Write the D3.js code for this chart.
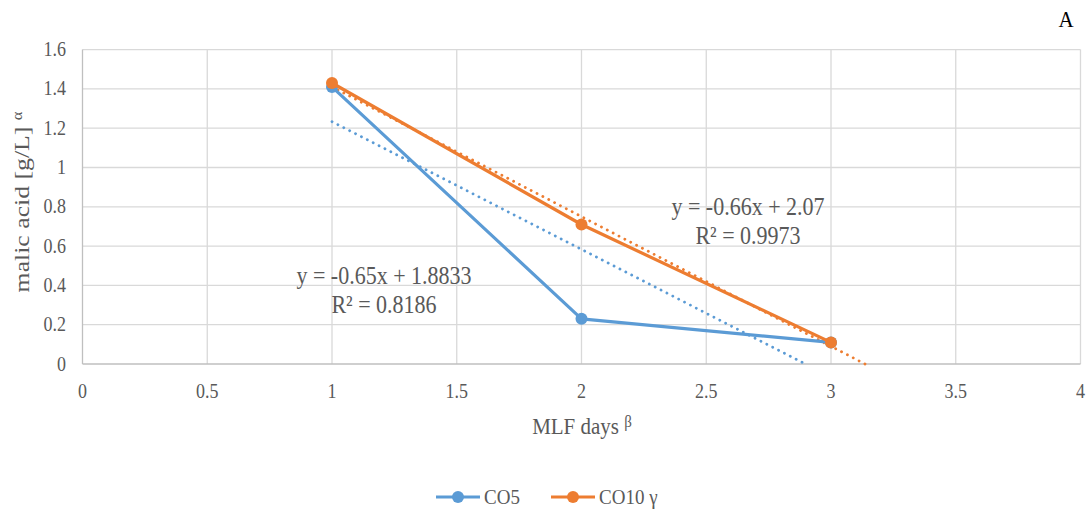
<!DOCTYPE html>
<html>
<head>
<meta charset="utf-8">
<script src="https://cdn.jsdelivr.net/npm/d3@7"></script>
<style>
  body { margin: 0; background: #fff; }
</style>
</head>
<body>
<div id="chart"></div>
<script>
// data
var days = [1, 2, 3];
var co5 = [1.41, 0.23, 0.11];
var co10 = [1.43, 0.71, 0.11];
var xTicks = [0, 0.5, 1, 1.5, 2, 2.5, 3, 3.5, 4];
var yTicks = [0, 0.2, 0.4, 0.6, 0.8, 1, 1.2, 1.4, 1.6];
// linear trendlines (slope, intercept) as printed on the chart
var trendCO5 = [-0.65, 1.8833];
var trendCO10 = [-0.66, 2.07];
var labelCO5 = ["y = -0.65x + 1.8833", "R\u00b2 = 0.8186"];
var labelCO10 = ["y = -0.66x + 2.07", "R\u00b2 = 0.9973"];

var W = 1087, H = 515;
var blue = "#5B9BD5", orange = "#ED7D31", grey = "#595959";
var serif = "'Liberation Serif', 'Times New Roman', Times, 'DejaVu Serif', serif";
var stretch = 1.13; // the original picture is a bit taller than wide

var svg = d3.select("#chart").append("svg")
  .attr("width", W).attr("height", H)
  .style("font-family", serif);

var x = d3.scaleLinear().domain([0, 4]).range([82.5, 1080.5]);
var y = d3.scaleLinear().domain([0, 1.6]).range([364, 49.6]);

// helper: horizontal text stretched vertically
function txt(px, py, size, anchor, color) {
  return svg.append("text")
    .attr("transform", "translate(" + px + "," + py + ") scale(1," + stretch + ")")
    .attr("text-anchor", anchor).attr("fill", color).style("font-size", size + "px");
}

// gridlines
svg.append("g").selectAll("line.v")
  .data(xTicks.slice(1))
  .enter().append("line")
    .attr("x1", function(d){ return x(d); }).attr("x2", function(d){ return x(d); })
    .attr("y1", y(0)).attr("y2", y(1.6))
    .attr("stroke", "#D9D9D9").attr("stroke-width", 1.3);
svg.append("g").selectAll("line.h")
  .data(yTicks.slice(1))
  .enter().append("line")
    .attr("x1", x(0)).attr("x2", x(4))
    .attr("y1", function(d){ return y(d); }).attr("y2", function(d){ return y(d); })
    .attr("stroke", "#D9D9D9").attr("stroke-width", 1.3);

// axes lines
svg.append("line").attr("x1", x(0)).attr("x2", x(0)).attr("y1", y(0)).attr("y2", y(1.6))
  .attr("stroke", "#BFBFBF").attr("stroke-width", 1.3);
svg.append("line").attr("x1", x(0)).attr("x2", x(4)).attr("y1", y(0)).attr("y2", y(0))
  .attr("stroke", "#BFBFBF").attr("stroke-width", 1.3);

// tick labels
yTicks.forEach(function(d) {
  txt(66, y(d) + 6.5, 18, "end", grey).text(d);
});
xTicks.forEach(function(d) {
  txt(x(d), 398, 18, "middle", grey).text(d);
});

// axis titles
var yt = svg.append("text")
  .attr("transform", "translate(29,202) rotate(-90) scale(1.17,1)")
  .attr("text-anchor", "middle").attr("fill", grey).style("font-size", "22px");
yt.append("tspan").text("malic acid [g/L] ");
yt.append("tspan").attr("dy", -7).style("font-size", "14px").text("\u03b1");

var xt = txt(582, 434, 21, "middle", grey);
xt.append("tspan").text("MLF days ");
xt.append("tspan").attr("dy", -6).style("font-size", "15px").text("\u03b2");

// trendlines, from first day until they hit zero
function trend(t) {
  var x0 = days[0], x1 = -t[1] / t[0];
  return [[x0, t[0] * x0 + t[1]], [x1, 0]];
}
var line = d3.line()
  .x(function(d){ return x(d[0]); })
  .y(function(d){ return y(d[1]); });

svg.append("path").datum(trend(trendCO5))
  .attr("d", line).attr("fill", "none").attr("stroke", blue)
  .attr("stroke-width", 2.8).attr("stroke-dasharray", "0.1 6.5").attr("stroke-linecap", "round");
svg.append("path").datum(trend(trendCO10))
  .attr("d", line).attr("fill", "none").attr("stroke", orange)
  .attr("stroke-width", 2.8).attr("stroke-dasharray", "0.1 6.5").attr("stroke-linecap", "round");

// series
var series = [
  { name: "CO5", vals: co5, color: blue },
  { name: "CO10", vals: co10, color: orange }
];
series.forEach(function(s) {
  var pts = days.map(function(d, i){ return [d, s.vals[i]]; });
  svg.append("path").datum(pts)
    .attr("d", line).attr("fill", "none").attr("stroke", s.color)
    .attr("stroke-width", 3.2).attr("stroke-linejoin", "round");
  svg.append("g").selectAll("circle")
    .data(pts).enter().append("circle")
      .attr("cx", function(d){ return x(d[0]); })
      .attr("cy", function(d){ return y(d[1]); })
      .attr("r", 6).attr("fill", s.color);
});

// equation labels
function eqLabel(lbl, cx, cy) {
  txt(cx, cy, 22, "middle", grey).text(lbl[0]);
  txt(cx, cy + 29, 22, "middle", grey).text(lbl[1]);
}
eqLabel(labelCO5, 384, 284);
eqLabel(labelCO10, 748, 215);

// legend
var leg = [
  { name: "CO5", sup: "", color: blue, lx: 436 },
  { name: "CO10", sup: " \u03b3", color: orange, lx: 551 }
];
leg.forEach(function(l) {
  svg.append("line").attr("x1", l.lx).attr("x2", l.lx + 44)
    .attr("y1", 497).attr("y2", 497)
    .attr("stroke", l.color).attr("stroke-width", 3.2);
  svg.append("circle").attr("cx", l.lx + 22).attr("cy", 497).attr("r", 6).attr("fill", l.color);
  txt(l.lx + 48, 503.5, 19, "start", grey).text(l.name + l.sup);
});

// panel letter
txt(1066, 27, 21, "middle", "#000").text("A");
</script>
</body>
</html>
